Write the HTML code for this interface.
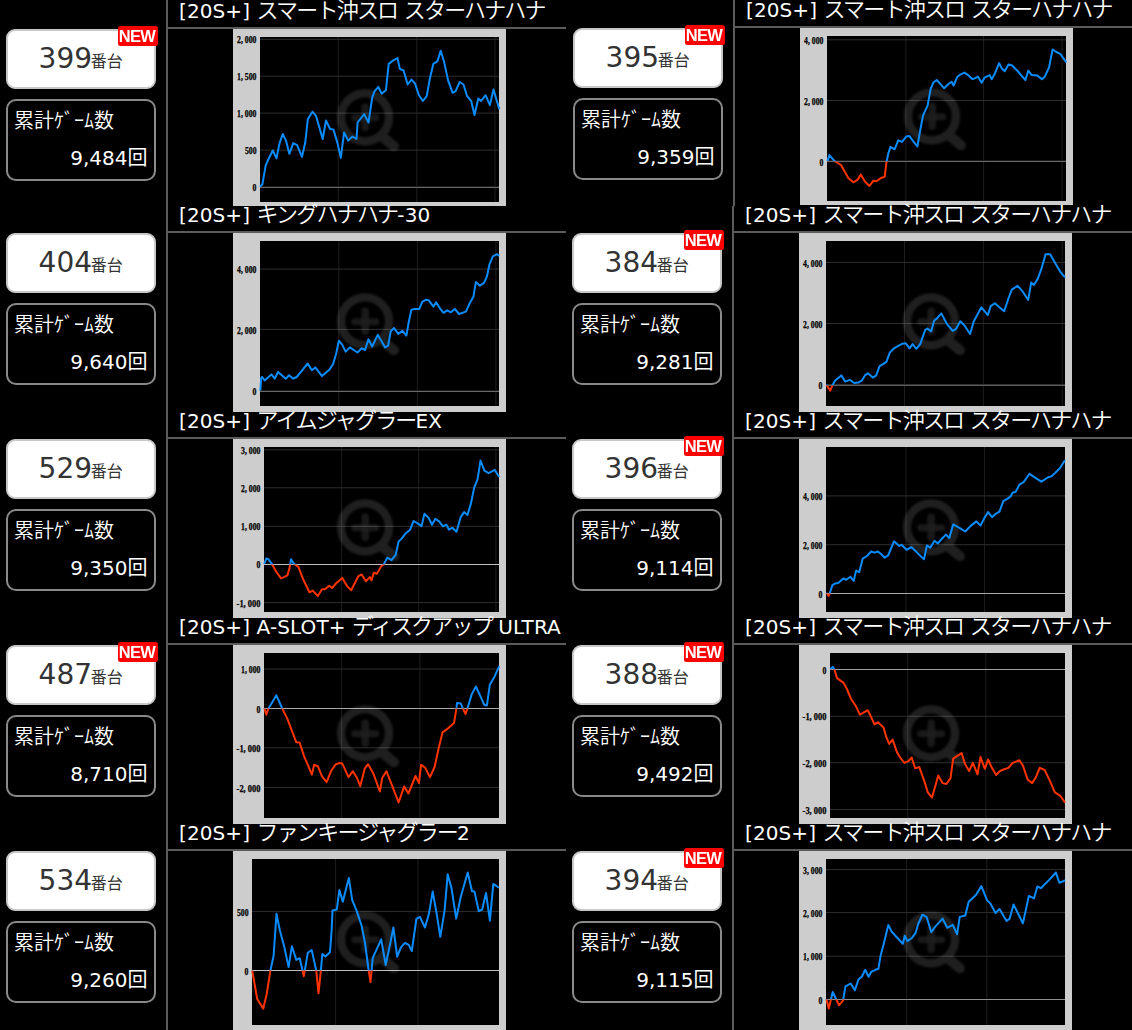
<!DOCTYPE html>
<html lang="ja"><head><meta charset="utf-8"><title>slot data</title>
<style>
*{margin:0;padding:0;box-sizing:border-box}
html,body{width:1132px;height:1030px;overflow:hidden;background:#000}
body{position:relative;font-family:"DejaVu Sans","Noto Sans CJK JP",sans-serif;color:#fff}
.vl{position:absolute;width:2px;background:#5b5b5b}
.hl{position:absolute;height:2px;background:#5b5b5b}
.tt{position:absolute;font-size:20px;line-height:20px;white-space:nowrap;color:#fff;letter-spacing:0.1px}
.tt .j{font-size:22px;letter-spacing:-1.8px;position:relative;top:0px;font-weight:350}
.nb{position:absolute;width:150px;height:60px;background:#fff;border:2px solid #c8c8c8;border-radius:9px;color:#333}
.nb .n{position:absolute;font-size:28px;line-height:28px;white-space:nowrap}
.nb .s{font-size:16px;font-family:"Noto Sans CJK JP",sans-serif;margin-left:-1.2px;position:relative;top:-1px}
.new{position:absolute;width:40px;height:20px;background:#ff0000;border-radius:2.5px;color:#fff;font:bold 16.5px/20px "Liberation Sans",sans-serif;text-align:center;letter-spacing:-0.6px;text-indent:-1px}
.new span{display:inline-block;filter:blur(0.5px);transform:scaleY(1.02)}
.gb{position:absolute;width:150px;height:82px;border:2px solid #8a8a8a;border-radius:10px;background:#000}
.gb .l{position:absolute;left:6px;top:8.5px;font-size:20px;line-height:20px;white-space:nowrap;font-family:"Noto Sans CJK JP",sans-serif;font-weight:350}
.gb .v{position:absolute;right:6.5px;top:45.5px;font-size:20px;line-height:20px;white-space:nowrap}
.gb .v .k{font-family:"Noto Sans CJK JP",sans-serif}
svg.ch{position:absolute}
</style></head>
<body>
<div class="vl" style="left:166px;top:0;height:1030px"></div>
<div class="vl" style="left:733px;top:0;height:206px"></div>
<div class="vl" style="left:732px;top:206px;height:824px"></div>
<div class="tt" style="left:179px;top:1px">[20S+] <span class="j">スマート沖スロ</span> <span class="j">スターハナハナ</span></div>
<div class="hl" style="left:166px;top:27px;width:400px"></div>
<div class="nb" style="left:6px;top:29px"><div class="n" style="left:30.6px;top:14px">399<span class="s">番台</span></div></div>
<div class="new" style="left:118px;top:26px"><span>NEW</span></div>
<div class="gb" style="left:6px;top:99px"><div class="l">累計ｹﾞｰﾑ数</div><div class="v">9,484<span class="k">回</span></div></div>
<svg class="ch" style="left:233px;top:29px" width="273" height="177" viewBox="0 0 273 177"><rect width="273" height="177" fill="#cdcdcd"/><rect x="27" y="8" width="239" height="165" fill="#000"/><line x1="105.2" y1="8" x2="105.2" y2="173" stroke="#1e1e1e" stroke-width="1"/><line x1="183.8" y1="8" x2="183.8" y2="173" stroke="#1e1e1e" stroke-width="1"/><line x1="262.0" y1="8" x2="262.0" y2="173" stroke="#1e1e1e" stroke-width="1"/><line x1="27" y1="10.3" x2="266" y2="10.3" stroke="#2e2e2e" stroke-width="1"/><line x1="27" y1="47.2" x2="266" y2="47.2" stroke="#2e2e2e" stroke-width="1"/><line x1="27" y1="84.1" x2="266" y2="84.1" stroke="#2e2e2e" stroke-width="1"/><line x1="27" y1="121.1" x2="266" y2="121.1" stroke="#2e2e2e" stroke-width="1"/><rect x="27" y="157" width="239" height="1" fill="#1c1c1c"/><rect x="27" y="158" width="239" height="1" fill="#686868"/><filter id="fL0" x="-20%" y="-20%" width="140%" height="140%"><feGaussianBlur stdDeviation="0.9"/></filter><g filter="url(#fL0)" opacity="0.12"><circle cx="132.0" cy="88.3" r="24" fill="none" stroke="#fff" stroke-width="8.3"/><line x1="132.2" y1="78.3" x2="132.2" y2="98.3" stroke="#fff" stroke-width="7.5" stroke-linecap="round" opacity="0.8"/><line x1="121.7" y1="88.8" x2="142.7" y2="88.8" stroke="#fff" stroke-width="7" stroke-linecap="round" opacity="0.8"/><line x1="149.0" y1="107.3" x2="161.0" y2="117.3" stroke="#fff" stroke-width="10" stroke-linecap="round"/></g><text x="23.5" y="14.4" text-anchor="end" font-family="Liberation Serif" font-weight="bold" font-size="10" textLength="19.4" lengthAdjust="spacingAndGlyphs" fill="#000" stroke="#000" stroke-width="0.25">2, 000</text><text x="23.5" y="51.3" text-anchor="end" font-family="Liberation Serif" font-weight="bold" font-size="10" textLength="19.4" lengthAdjust="spacingAndGlyphs" fill="#000" stroke="#000" stroke-width="0.25">1, 500</text><text x="23.5" y="88.2" text-anchor="end" font-family="Liberation Serif" font-weight="bold" font-size="10" textLength="19.4" lengthAdjust="spacingAndGlyphs" fill="#000" stroke="#000" stroke-width="0.25">1, 000</text><text x="23.5" y="125.2" text-anchor="end" font-family="Liberation Serif" font-weight="bold" font-size="10" textLength="11.6" lengthAdjust="spacingAndGlyphs" fill="#000" stroke="#000" stroke-width="0.25">500</text><text x="23.5" y="162.1" text-anchor="end" font-family="Liberation Serif" font-weight="bold" font-size="10" textLength="3.9" lengthAdjust="spacingAndGlyphs" fill="#000" stroke="#000" stroke-width="0.25">0</text><clipPath id="aL0"><rect x="0" y="0" width="273" height="158.50"/></clipPath><clipPath id="bL0"><rect x="0" y="158.50" width="273" height="177"/></clipPath><path d="M27.0,157.8 L29.4,155.3 L32.7,136.4 L36.0,129.0 L39.8,121.5 L43.5,129.4 L46.4,114.9 L49.7,105.0 L53.0,111.6 L56.3,124.8 L60.3,114.1 L64.1,116.2 L69.0,127.8 L72.3,113.3 L74.8,90.2 L79.4,82.7 L83.0,86.9 L89.7,110.0 L93.0,91.5 L97.1,100.0 L100.4,100.4 L104.5,114.1 L107.8,128.9 L111.1,103.4 L115.2,111.6 L119.4,107.5 L123.5,110.0 L124.6,93.5 L131.2,85.2 L135.5,93.5 L139.2,68.7 L141.6,62.1 L145.4,58.0 L148.6,64.6 L152.9,61.3 L155.7,34.9 L159.9,31.6 L164.5,29.1 L166.8,39.8 L170.6,41.5 L174.7,55.5 L178.5,50.6 L182.1,54.7 L185.9,66.2 L189.9,72.0 L193.7,67.1 L197.0,48.9 L200.3,34.9 L204.4,32.4 L207.7,21.7 L211.0,32.4 L215.1,51.4 L219.6,63.8 L222.6,62.1 L226.7,53.0 L230.5,55.5 L234.1,67.1 L238.2,72.0 L241.5,86.0 L245.3,69.5 L248.1,72.0 L252.6,66.2 L256.9,76.1 L260.5,60.5 L266.3,80.3" fill="none" stroke="#0a8cff" stroke-width="2.0" stroke-linejoin="round" clip-path="url(#aL0)"/><path d="M27.0,157.8 L29.4,155.3 L32.7,136.4 L36.0,129.0 L39.8,121.5 L43.5,129.4 L46.4,114.9 L49.7,105.0 L53.0,111.6 L56.3,124.8 L60.3,114.1 L64.1,116.2 L69.0,127.8 L72.3,113.3 L74.8,90.2 L79.4,82.7 L83.0,86.9 L89.7,110.0 L93.0,91.5 L97.1,100.0 L100.4,100.4 L104.5,114.1 L107.8,128.9 L111.1,103.4 L115.2,111.6 L119.4,107.5 L123.5,110.0 L124.6,93.5 L131.2,85.2 L135.5,93.5 L139.2,68.7 L141.6,62.1 L145.4,58.0 L148.6,64.6 L152.9,61.3 L155.7,34.9 L159.9,31.6 L164.5,29.1 L166.8,39.8 L170.6,41.5 L174.7,55.5 L178.5,50.6 L182.1,54.7 L185.9,66.2 L189.9,72.0 L193.7,67.1 L197.0,48.9 L200.3,34.9 L204.4,32.4 L207.7,21.7 L211.0,32.4 L215.1,51.4 L219.6,63.8 L222.6,62.1 L226.7,53.0 L230.5,55.5 L234.1,67.1 L238.2,72.0 L241.5,86.0 L245.3,69.5 L248.1,72.0 L252.6,66.2 L256.9,76.1 L260.5,60.5 L266.3,80.3" fill="none" stroke="#ff3300" stroke-width="2.0" stroke-linejoin="round" clip-path="url(#bL0)"/></svg>
<div class="tt" style="left:746px;top:0px">[20S+] <span class="j">スマート沖スロ</span> <span class="j">スターハナハナ</span></div>
<div class="hl" style="left:733px;top:26px;width:400px"></div>
<div class="nb" style="left:573px;top:28px"><div class="n" style="left:30.6px;top:14px">395<span class="s">番台</span></div></div>
<div class="new" style="left:685px;top:25px"><span>NEW</span></div>
<div class="gb" style="left:573px;top:98px"><div class="l">累計ｹﾞｰﾑ数</div><div class="v">9,359<span class="k">回</span></div></div>
<svg class="ch" style="left:800px;top:28px" width="273" height="177" viewBox="0 0 273 177"><rect width="273" height="177" fill="#cdcdcd"/><rect x="27" y="8" width="239" height="165" fill="#000"/><line x1="105.9" y1="8" x2="105.9" y2="173" stroke="#1e1e1e" stroke-width="1"/><line x1="183.6" y1="8" x2="183.6" y2="173" stroke="#1e1e1e" stroke-width="1"/><line x1="262.0" y1="8" x2="262.0" y2="173" stroke="#1e1e1e" stroke-width="1"/><line x1="27" y1="11.8" x2="266" y2="11.8" stroke="#2e2e2e" stroke-width="1"/><line x1="27" y1="72.5" x2="266" y2="72.5" stroke="#2e2e2e" stroke-width="1"/><rect x="27" y="132" width="239" height="1" fill="#1a1a1a"/><rect x="27" y="133" width="239" height="1" fill="#686868"/><filter id="fR0" x="-20%" y="-20%" width="140%" height="140%"><feGaussianBlur stdDeviation="0.9"/></filter><g filter="url(#fR0)" opacity="0.12"><circle cx="132.0" cy="88.3" r="24" fill="none" stroke="#fff" stroke-width="8.3"/><line x1="132.2" y1="78.3" x2="132.2" y2="98.3" stroke="#fff" stroke-width="7.5" stroke-linecap="round" opacity="0.8"/><line x1="121.7" y1="88.8" x2="142.7" y2="88.8" stroke="#fff" stroke-width="7" stroke-linecap="round" opacity="0.8"/><line x1="149.0" y1="107.3" x2="161.0" y2="117.3" stroke="#fff" stroke-width="10" stroke-linecap="round"/></g><text x="23.5" y="15.9" text-anchor="end" font-family="Liberation Serif" font-weight="bold" font-size="10" textLength="19.4" lengthAdjust="spacingAndGlyphs" fill="#000" stroke="#000" stroke-width="0.25">4, 000</text><text x="23.5" y="76.6" text-anchor="end" font-family="Liberation Serif" font-weight="bold" font-size="10" textLength="19.4" lengthAdjust="spacingAndGlyphs" fill="#000" stroke="#000" stroke-width="0.25">2, 000</text><text x="23.5" y="137.7" text-anchor="end" font-family="Liberation Serif" font-weight="bold" font-size="10" textLength="3.9" lengthAdjust="spacingAndGlyphs" fill="#000" stroke="#000" stroke-width="0.25">0</text><clipPath id="aR0"><rect x="0" y="0" width="273" height="133.50"/></clipPath><clipPath id="bR0"><rect x="0" y="133.50" width="273" height="177"/></clipPath><path d="M27.4,133.4 L29.4,127.1 L34.4,132.9 L41.0,137.0 L48.4,150.2 L53.4,154.3 L57.5,151.9 L60.8,146.6 L64.9,153.5 L69.4,158.0 L73.5,152.7 L76.5,153.2 L80.6,150.2 L84.7,148.6 L86.4,134.5 L88.3,125.5 L90.5,118.9 L94.6,121.3 L98.2,112.3 L102.0,113.9 L106.2,108.6 L109.5,108.1 L113.1,113.1 L117.4,118.5 L120.2,102.4 L123.0,87.5 L127.6,77.6 L130.6,61.1 L133.4,54.5 L136.7,52.0 L140.5,56.2 L144.1,60.3 L148.2,56.2 L151.6,53.7 L153.6,57.5 L157.4,48.7 L160.7,46.3 L164.5,44.6 L168.1,47.1 L172.2,50.9 L174.7,50.4 L178.0,48.7 L181.6,54.8 L184.6,49.6 L189.6,47.1 L191.7,51.2 L194.5,46.3 L199.1,35.2 L201.9,40.5 L204.7,43.3 L208.5,36.4 L211.8,37.2 L217.6,43.0 L221.7,47.9 L225.4,52.0 L228.3,42.6 L231.6,47.1 L237.4,47.6 L242.0,51.2 L244.8,48.7 L249.0,39.7 L252.6,21.5 L256.4,24.0 L260.5,26.1 L266.3,34.4" fill="none" stroke="#0a8cff" stroke-width="2.0" stroke-linejoin="round" clip-path="url(#aR0)"/><path d="M27.4,133.4 L29.4,127.1 L34.4,132.9 L41.0,137.0 L48.4,150.2 L53.4,154.3 L57.5,151.9 L60.8,146.6 L64.9,153.5 L69.4,158.0 L73.5,152.7 L76.5,153.2 L80.6,150.2 L84.7,148.6 L86.4,134.5 L88.3,125.5 L90.5,118.9 L94.6,121.3 L98.2,112.3 L102.0,113.9 L106.2,108.6 L109.5,108.1 L113.1,113.1 L117.4,118.5 L120.2,102.4 L123.0,87.5 L127.6,77.6 L130.6,61.1 L133.4,54.5 L136.7,52.0 L140.5,56.2 L144.1,60.3 L148.2,56.2 L151.6,53.7 L153.6,57.5 L157.4,48.7 L160.7,46.3 L164.5,44.6 L168.1,47.1 L172.2,50.9 L174.7,50.4 L178.0,48.7 L181.6,54.8 L184.6,49.6 L189.6,47.1 L191.7,51.2 L194.5,46.3 L199.1,35.2 L201.9,40.5 L204.7,43.3 L208.5,36.4 L211.8,37.2 L217.6,43.0 L221.7,47.9 L225.4,52.0 L228.3,42.6 L231.6,47.1 L237.4,47.6 L242.0,51.2 L244.8,48.7 L249.0,39.7 L252.6,21.5 L256.4,24.0 L260.5,26.1 L266.3,34.4" fill="none" stroke="#ff3300" stroke-width="2.0" stroke-linejoin="round" clip-path="url(#bR0)"/></svg>
<div class="tt" style="left:179px;top:205px">[20S+] <span class="j">キングハナハナ</span>-30</div>
<div class="hl" style="left:166px;top:231px;width:400px"></div>
<div class="nb" style="left:6px;top:233px"><div class="n" style="left:30.6px;top:14px">404<span class="s">番台</span></div></div>
<div class="gb" style="left:6px;top:303px"><div class="l">累計ｹﾞｰﾑ数</div><div class="v">9,640<span class="k">回</span></div></div>
<svg class="ch" style="left:233px;top:233px" width="273" height="179" viewBox="0 0 273 179"><rect width="273" height="179" fill="#cdcdcd"/><rect x="27" y="8" width="239" height="165" fill="#000"/><line x1="105.8" y1="8" x2="105.8" y2="173" stroke="#1e1e1e" stroke-width="1"/><line x1="184.4" y1="8" x2="184.4" y2="173" stroke="#1e1e1e" stroke-width="1"/><line x1="262.9" y1="8" x2="262.9" y2="173" stroke="#1e1e1e" stroke-width="1"/><line x1="27" y1="36.1" x2="266" y2="36.1" stroke="#2e2e2e" stroke-width="1"/><line x1="27" y1="96.4" x2="266" y2="96.4" stroke="#2e2e2e" stroke-width="1"/><rect x="27" y="157" width="239" height="1" fill="#1c1c1c"/><rect x="27" y="158" width="239" height="1" fill="#686868"/><filter id="fL1" x="-20%" y="-20%" width="140%" height="140%"><feGaussianBlur stdDeviation="0.9"/></filter><g filter="url(#fL1)" opacity="0.12"><circle cx="132.0" cy="88.3" r="24" fill="none" stroke="#fff" stroke-width="8.3"/><line x1="132.2" y1="78.3" x2="132.2" y2="98.3" stroke="#fff" stroke-width="7.5" stroke-linecap="round" opacity="0.8"/><line x1="121.7" y1="88.8" x2="142.7" y2="88.8" stroke="#fff" stroke-width="7" stroke-linecap="round" opacity="0.8"/><line x1="149.0" y1="107.3" x2="161.0" y2="117.3" stroke="#fff" stroke-width="10" stroke-linecap="round"/></g><text x="23.5" y="40.2" text-anchor="end" font-family="Liberation Serif" font-weight="bold" font-size="10" textLength="19.4" lengthAdjust="spacingAndGlyphs" fill="#000" stroke="#000" stroke-width="0.25">4, 000</text><text x="23.5" y="100.5" text-anchor="end" font-family="Liberation Serif" font-weight="bold" font-size="10" textLength="19.4" lengthAdjust="spacingAndGlyphs" fill="#000" stroke="#000" stroke-width="0.25">2, 000</text><text x="23.5" y="161.8" text-anchor="end" font-family="Liberation Serif" font-weight="bold" font-size="10" textLength="3.9" lengthAdjust="spacingAndGlyphs" fill="#000" stroke="#000" stroke-width="0.25">0</text><clipPath id="aL1"><rect x="0" y="0" width="273" height="158.50"/></clipPath><clipPath id="bL1"><rect x="0" y="158.50" width="273" height="179"/></clipPath><path d="M27.4,157.5 L28.2,144.8 L29.1,144.0 L31.6,147.4 L38.4,141.4 L41.7,145.7 L45.1,138.9 L52.7,145.7 L56.1,142.3 L60.3,145.7 L63.7,144.0 L67.9,138.9 L74.7,130.5 L78.9,137.2 L82.3,134.4 L89.0,143.1 L96.6,136.4 L100.0,131.3 L103.0,121.2 L105.9,107.7 L109.3,111.9 L112.6,118.6 L116.9,114.4 L124.5,119.5 L128.7,115.3 L132.1,117.0 L135.4,106.3 L139.2,113.6 L144.7,101.8 L149.0,109.0 L152.1,114.4 L155.1,112.7 L157.7,98.4 L161.0,95.0 L165.3,100.9 L169.5,97.9 L173.4,102.6 L175.4,90.8 L178.3,77.0 L181.3,75.9 L186.4,75.9 L189.2,68.8 L193.1,66.7 L195.6,67.2 L200.4,73.6 L203.2,69.2 L206.6,74.8 L210.5,79.8 L214.2,77.3 L217.9,79.3 L221.8,75.9 L226.0,81.0 L232.8,78.6 L237.0,69.7 L240.4,63.8 L242.9,48.9 L246.8,52.8 L251.0,49.9 L253.9,43.5 L256.4,31.7 L259.8,23.3 L264.0,21.2 L266.2,22.9" fill="none" stroke="#0a8cff" stroke-width="2.0" stroke-linejoin="round" clip-path="url(#aL1)"/><path d="M27.4,157.5 L28.2,144.8 L29.1,144.0 L31.6,147.4 L38.4,141.4 L41.7,145.7 L45.1,138.9 L52.7,145.7 L56.1,142.3 L60.3,145.7 L63.7,144.0 L67.9,138.9 L74.7,130.5 L78.9,137.2 L82.3,134.4 L89.0,143.1 L96.6,136.4 L100.0,131.3 L103.0,121.2 L105.9,107.7 L109.3,111.9 L112.6,118.6 L116.9,114.4 L124.5,119.5 L128.7,115.3 L132.1,117.0 L135.4,106.3 L139.2,113.6 L144.7,101.8 L149.0,109.0 L152.1,114.4 L155.1,112.7 L157.7,98.4 L161.0,95.0 L165.3,100.9 L169.5,97.9 L173.4,102.6 L175.4,90.8 L178.3,77.0 L181.3,75.9 L186.4,75.9 L189.2,68.8 L193.1,66.7 L195.6,67.2 L200.4,73.6 L203.2,69.2 L206.6,74.8 L210.5,79.8 L214.2,77.3 L217.9,79.3 L221.8,75.9 L226.0,81.0 L232.8,78.6 L237.0,69.7 L240.4,63.8 L242.9,48.9 L246.8,52.8 L251.0,49.9 L253.9,43.5 L256.4,31.7 L259.8,23.3 L264.0,21.2 L266.2,22.9" fill="none" stroke="#ff3300" stroke-width="2.0" stroke-linejoin="round" clip-path="url(#bL1)"/></svg>
<div class="tt" style="left:745px;top:205px">[20S+] <span class="j">スマート沖スロ</span> <span class="j">スターハナハナ</span></div>
<div class="hl" style="left:732px;top:231px;width:400px"></div>
<div class="nb" style="left:572px;top:233px"><div class="n" style="left:30.6px;top:14px">384<span class="s">番台</span></div></div>
<div class="new" style="left:684px;top:230px"><span>NEW</span></div>
<div class="gb" style="left:572px;top:303px"><div class="l">累計ｹﾞｰﾑ数</div><div class="v">9,281<span class="k">回</span></div></div>
<svg class="ch" style="left:799px;top:233px" width="273" height="179" viewBox="0 0 273 179"><rect width="273" height="179" fill="#cdcdcd"/><rect x="27" y="8" width="239" height="165" fill="#000"/><line x1="105.5" y1="8" x2="105.5" y2="173" stroke="#1e1e1e" stroke-width="1"/><line x1="184.3" y1="8" x2="184.3" y2="173" stroke="#1e1e1e" stroke-width="1"/><line x1="263.2" y1="8" x2="263.2" y2="173" stroke="#1e1e1e" stroke-width="1"/><line x1="27" y1="29.4" x2="266" y2="29.4" stroke="#2e2e2e" stroke-width="1"/><line x1="27" y1="90.5" x2="266" y2="90.5" stroke="#2e2e2e" stroke-width="1"/><rect x="27" y="151" width="239" height="1" fill="#333333"/><rect x="27" y="152" width="239" height="1" fill="#5a5a5a"/><filter id="fR1" x="-20%" y="-20%" width="140%" height="140%"><feGaussianBlur stdDeviation="0.9"/></filter><g filter="url(#fR1)" opacity="0.12"><circle cx="132.0" cy="88.3" r="24" fill="none" stroke="#fff" stroke-width="8.3"/><line x1="132.2" y1="78.3" x2="132.2" y2="98.3" stroke="#fff" stroke-width="7.5" stroke-linecap="round" opacity="0.8"/><line x1="121.7" y1="88.8" x2="142.7" y2="88.8" stroke="#fff" stroke-width="7" stroke-linecap="round" opacity="0.8"/><line x1="149.0" y1="107.3" x2="161.0" y2="117.3" stroke="#fff" stroke-width="10" stroke-linecap="round"/></g><text x="23.5" y="33.5" text-anchor="end" font-family="Liberation Serif" font-weight="bold" font-size="10" textLength="19.4" lengthAdjust="spacingAndGlyphs" fill="#000" stroke="#000" stroke-width="0.25">4, 000</text><text x="23.5" y="94.6" text-anchor="end" font-family="Liberation Serif" font-weight="bold" font-size="10" textLength="19.4" lengthAdjust="spacingAndGlyphs" fill="#000" stroke="#000" stroke-width="0.25">2, 000</text><text x="23.5" y="156.3" text-anchor="end" font-family="Liberation Serif" font-weight="bold" font-size="10" textLength="3.9" lengthAdjust="spacingAndGlyphs" fill="#000" stroke="#000" stroke-width="0.25">0</text><clipPath id="aR1"><rect x="0" y="0" width="273" height="152.50"/></clipPath><clipPath id="bR1"><rect x="0" y="152.50" width="273" height="179"/></clipPath><path d="M27.4,151.7 L31.3,157.6 L33.3,152.5 L36.2,147.4 L42.3,142.4 L46.3,148.6 L50.7,146.9 L55.3,150.0 L59.5,149.6 L62.9,147.4 L65.9,142.4 L68.8,140.2 L73.9,144.6 L77.2,142.4 L80.6,133.1 L83.1,131.7 L87.4,128.8 L90.8,119.6 L95.0,115.3 L99.2,112.8 L103.1,110.8 L106.8,110.3 L110.5,115.3 L113.6,111.1 L117.3,115.8 L121.2,111.1 L126.2,96.8 L128.4,95.6 L132.1,98.4 L135.2,87.5 L138.0,85.4 L142.3,80.4 L147.8,90.8 L153.7,97.9 L157.0,95.9 L161.3,88.3 L165.5,92.5 L171.1,101.0 L174.8,88.3 L182.4,74.3 L188.8,82.1 L191.7,73.1 L195.9,70.2 L200.1,74.0 L205.2,78.2 L209.4,65.5 L212.8,56.7 L218.7,52.8 L223.8,58.7 L229.2,66.9 L232.2,49.5 L234.8,52.0 L238.6,46.1 L242.4,35.9 L246.6,21.2 L251.1,21.2 L257.6,32.6 L261.3,38.8 L266.0,44.4" fill="none" stroke="#0a8cff" stroke-width="2.0" stroke-linejoin="round" clip-path="url(#aR1)"/><path d="M27.4,151.7 L31.3,157.6 L33.3,152.5 L36.2,147.4 L42.3,142.4 L46.3,148.6 L50.7,146.9 L55.3,150.0 L59.5,149.6 L62.9,147.4 L65.9,142.4 L68.8,140.2 L73.9,144.6 L77.2,142.4 L80.6,133.1 L83.1,131.7 L87.4,128.8 L90.8,119.6 L95.0,115.3 L99.2,112.8 L103.1,110.8 L106.8,110.3 L110.5,115.3 L113.6,111.1 L117.3,115.8 L121.2,111.1 L126.2,96.8 L128.4,95.6 L132.1,98.4 L135.2,87.5 L138.0,85.4 L142.3,80.4 L147.8,90.8 L153.7,97.9 L157.0,95.9 L161.3,88.3 L165.5,92.5 L171.1,101.0 L174.8,88.3 L182.4,74.3 L188.8,82.1 L191.7,73.1 L195.9,70.2 L200.1,74.0 L205.2,78.2 L209.4,65.5 L212.8,56.7 L218.7,52.8 L223.8,58.7 L229.2,66.9 L232.2,49.5 L234.8,52.0 L238.6,46.1 L242.4,35.9 L246.6,21.2 L251.1,21.2 L257.6,32.6 L261.3,38.8 L266.0,44.4" fill="none" stroke="#ff3300" stroke-width="2.0" stroke-linejoin="round" clip-path="url(#bR1)"/></svg>
<div class="tt" style="left:179px;top:411px">[20S+] <span class="j">アイムジャグラー</span>EX</div>
<div class="hl" style="left:166px;top:437px;width:400px"></div>
<div class="nb" style="left:6px;top:439px"><div class="n" style="left:30.6px;top:14px">529<span class="s">番台</span></div></div>
<div class="gb" style="left:6px;top:509px"><div class="l">累計ｹﾞｰﾑ数</div><div class="v">9,350<span class="k">回</span></div></div>
<svg class="ch" style="left:233px;top:439px" width="273" height="179" viewBox="0 0 273 179"><rect width="273" height="179" fill="#cdcdcd"/><rect x="31" y="8" width="235" height="165" fill="#000"/><line x1="108.6" y1="8" x2="108.6" y2="173" stroke="#1e1e1e" stroke-width="1"/><line x1="185.7" y1="8" x2="185.7" y2="173" stroke="#1e1e1e" stroke-width="1"/><line x1="262.9" y1="8" x2="262.9" y2="173" stroke="#1e1e1e" stroke-width="1"/><line x1="31" y1="10.8" x2="266" y2="10.8" stroke="#2e2e2e" stroke-width="1"/><line x1="31" y1="48.8" x2="266" y2="48.8" stroke="#2e2e2e" stroke-width="1"/><line x1="31" y1="87.3" x2="266" y2="87.3" stroke="#2e2e2e" stroke-width="1"/><line x1="31" y1="163.6" x2="266" y2="163.6" stroke="#2e2e2e" stroke-width="1"/><rect x="31" y="125" width="235" height="1" fill="#c0c0c0"/><filter id="fL2" x="-20%" y="-20%" width="140%" height="140%"><feGaussianBlur stdDeviation="0.9"/></filter><g filter="url(#fL2)" opacity="0.12"><circle cx="132.0" cy="88.3" r="24" fill="none" stroke="#fff" stroke-width="8.3"/><line x1="132.2" y1="78.3" x2="132.2" y2="98.3" stroke="#fff" stroke-width="7.5" stroke-linecap="round" opacity="0.8"/><line x1="121.7" y1="88.8" x2="142.7" y2="88.8" stroke="#fff" stroke-width="7" stroke-linecap="round" opacity="0.8"/><line x1="149.0" y1="107.3" x2="161.0" y2="117.3" stroke="#fff" stroke-width="10" stroke-linecap="round"/></g><text x="27.5" y="14.9" text-anchor="end" font-family="Liberation Serif" font-weight="bold" font-size="10" textLength="19.4" lengthAdjust="spacingAndGlyphs" fill="#000" stroke="#000" stroke-width="0.25">3, 000</text><text x="27.5" y="52.9" text-anchor="end" font-family="Liberation Serif" font-weight="bold" font-size="10" textLength="19.4" lengthAdjust="spacingAndGlyphs" fill="#000" stroke="#000" stroke-width="0.25">2, 000</text><text x="27.5" y="91.4" text-anchor="end" font-family="Liberation Serif" font-weight="bold" font-size="10" textLength="19.4" lengthAdjust="spacingAndGlyphs" fill="#000" stroke="#000" stroke-width="0.25">1, 000</text><text x="27.5" y="129.2" text-anchor="end" font-family="Liberation Serif" font-weight="bold" font-size="10" textLength="3.9" lengthAdjust="spacingAndGlyphs" fill="#000" stroke="#000" stroke-width="0.25">0</text><text x="27.5" y="167.7" text-anchor="end" font-family="Liberation Serif" font-weight="bold" font-size="10" textLength="23.9" lengthAdjust="spacingAndGlyphs" fill="#000" stroke="#000" stroke-width="0.25">-1, 000</text><clipPath id="aL2"><rect x="0" y="0" width="273" height="125.50"/></clipPath><clipPath id="bL2"><rect x="0" y="125.50" width="273" height="179"/></clipPath><path d="M31.3,124.9 L33.3,119.5 L35.5,120.3 L38.9,124.9 L43.4,133.0 L48.0,139.4 L51.0,138.1 L54.4,136.4 L56.4,129.6 L58.1,120.3 L60.8,124.6 L65.4,127.9 L69.9,139.8 L76.4,153.3 L79.7,151.6 L84.8,157.0 L89.0,150.2 L91.9,150.2 L96.3,146.8 L99.1,149.0 L103.4,144.0 L109.3,138.9 L114.3,147.4 L118.2,151.2 L125.3,137.2 L128.7,135.5 L132.9,142.3 L136.8,138.1 L138.5,141.4 L140.8,133.8 L143.9,134.7 L148.1,127.6 L151.0,124.9 L154.3,118.7 L158.5,121.2 L162.7,115.8 L165.6,102.6 L168.6,99.6 L172.9,94.2 L177.1,90.8 L180.5,82.0 L184.7,84.4 L188.6,87.1 L191.4,74.8 L195.7,79.0 L199.0,85.7 L202.4,79.8 L206.1,82.4 L210.0,87.4 L213.4,85.7 L215.9,90.5 L219.3,88.8 L223.5,92.8 L227.7,78.1 L231.1,73.1 L234.5,75.9 L237.9,64.6 L241.2,48.6 L244.6,40.1 L247.5,21.6 L251.4,31.7 L255.6,34.2 L261.8,30.9 L266.2,38.1" fill="none" stroke="#0a8cff" stroke-width="2.0" stroke-linejoin="round" clip-path="url(#aL2)"/><path d="M31.3,124.9 L33.3,119.5 L35.5,120.3 L38.9,124.9 L43.4,133.0 L48.0,139.4 L51.0,138.1 L54.4,136.4 L56.4,129.6 L58.1,120.3 L60.8,124.6 L65.4,127.9 L69.9,139.8 L76.4,153.3 L79.7,151.6 L84.8,157.0 L89.0,150.2 L91.9,150.2 L96.3,146.8 L99.1,149.0 L103.4,144.0 L109.3,138.9 L114.3,147.4 L118.2,151.2 L125.3,137.2 L128.7,135.5 L132.9,142.3 L136.8,138.1 L138.5,141.4 L140.8,133.8 L143.9,134.7 L148.1,127.6 L151.0,124.9 L154.3,118.7 L158.5,121.2 L162.7,115.8 L165.6,102.6 L168.6,99.6 L172.9,94.2 L177.1,90.8 L180.5,82.0 L184.7,84.4 L188.6,87.1 L191.4,74.8 L195.7,79.0 L199.0,85.7 L202.4,79.8 L206.1,82.4 L210.0,87.4 L213.4,85.7 L215.9,90.5 L219.3,88.8 L223.5,92.8 L227.7,78.1 L231.1,73.1 L234.5,75.9 L237.9,64.6 L241.2,48.6 L244.6,40.1 L247.5,21.6 L251.4,31.7 L255.6,34.2 L261.8,30.9 L266.2,38.1" fill="none" stroke="#ff3300" stroke-width="2.0" stroke-linejoin="round" clip-path="url(#bL2)"/></svg>
<div class="tt" style="left:745px;top:411px">[20S+] <span class="j">スマート沖スロ</span> <span class="j">スターハナハナ</span></div>
<div class="hl" style="left:732px;top:437px;width:400px"></div>
<div class="nb" style="left:572px;top:439px"><div class="n" style="left:30.6px;top:14px">396<span class="s">番台</span></div></div>
<div class="new" style="left:684px;top:436px"><span>NEW</span></div>
<div class="gb" style="left:572px;top:509px"><div class="l">累計ｹﾞｰﾑ数</div><div class="v">9,114<span class="k">回</span></div></div>
<svg class="ch" style="left:799px;top:439px" width="273" height="179" viewBox="0 0 273 179"><rect width="273" height="179" fill="#cdcdcd"/><rect x="27" y="8" width="239" height="165" fill="#000"/><line x1="107.0" y1="8" x2="107.0" y2="173" stroke="#1e1e1e" stroke-width="1"/><line x1="185.6" y1="8" x2="185.6" y2="173" stroke="#1e1e1e" stroke-width="1"/><line x1="27" y1="56.9" x2="266" y2="56.9" stroke="#2e2e2e" stroke-width="1"/><line x1="27" y1="105.7" x2="266" y2="105.7" stroke="#2e2e2e" stroke-width="1"/><rect x="27" y="154" width="239" height="1" fill="#a8a8a8"/><filter id="fR2" x="-20%" y="-20%" width="140%" height="140%"><feGaussianBlur stdDeviation="0.9"/></filter><g filter="url(#fR2)" opacity="0.12"><circle cx="132.0" cy="88.3" r="24" fill="none" stroke="#fff" stroke-width="8.3"/><line x1="132.2" y1="78.3" x2="132.2" y2="98.3" stroke="#fff" stroke-width="7.5" stroke-linecap="round" opacity="0.8"/><line x1="121.7" y1="88.8" x2="142.7" y2="88.8" stroke="#fff" stroke-width="7" stroke-linecap="round" opacity="0.8"/><line x1="149.0" y1="107.3" x2="161.0" y2="117.3" stroke="#fff" stroke-width="10" stroke-linecap="round"/></g><text x="23.5" y="61.0" text-anchor="end" font-family="Liberation Serif" font-weight="bold" font-size="10" textLength="19.4" lengthAdjust="spacingAndGlyphs" fill="#000" stroke="#000" stroke-width="0.25">4, 000</text><text x="23.5" y="109.8" text-anchor="end" font-family="Liberation Serif" font-weight="bold" font-size="10" textLength="19.4" lengthAdjust="spacingAndGlyphs" fill="#000" stroke="#000" stroke-width="0.25">2, 000</text><text x="23.5" y="158.7" text-anchor="end" font-family="Liberation Serif" font-weight="bold" font-size="10" textLength="3.9" lengthAdjust="spacingAndGlyphs" fill="#000" stroke="#000" stroke-width="0.25">0</text><clipPath id="aR2"><rect x="0" y="0" width="273" height="154.50"/></clipPath><clipPath id="bR2"><rect x="0" y="154.50" width="273" height="179"/></clipPath><path d="M27.4,153.8 L29.6,157.0 L30.8,154.2 L33.3,146.2 L35.9,144.6 L39.2,144.0 L44.3,139.5 L47.3,140.7 L51.4,137.8 L54.8,141.9 L57.0,131.7 L60.3,133.1 L63.7,119.6 L67.9,117.0 L72.2,112.5 L75.5,113.6 L78.9,112.5 L82.3,115.3 L85.7,118.7 L89.1,116.5 L95.0,102.3 L100.4,106.9 L102.6,105.7 L107.6,110.8 L112.2,108.1 L118.6,114.1 L125.0,120.4 L127.9,106.4 L131.3,108.6 L135.5,101.8 L138.9,104.4 L141.0,101.8 L146.9,95.6 L150.3,99.0 L154.2,85.4 L160.4,88.8 L166.3,92.5 L171.4,87.1 L177.3,82.4 L181.5,86.6 L185.8,78.2 L189.1,73.1 L193.0,78.2 L196.7,74.8 L200.5,72.6 L204.3,62.1 L208.6,59.6 L211.6,57.4 L213.6,53.7 L216.7,52.8 L220.4,45.6 L224.6,43.2 L230.5,34.8 L236.4,38.8 L242.4,42.7 L248.8,38.5 L252.8,37.1 L260.9,29.2 L266.0,21.2" fill="none" stroke="#0a8cff" stroke-width="2.0" stroke-linejoin="round" clip-path="url(#aR2)"/><path d="M27.4,153.8 L29.6,157.0 L30.8,154.2 L33.3,146.2 L35.9,144.6 L39.2,144.0 L44.3,139.5 L47.3,140.7 L51.4,137.8 L54.8,141.9 L57.0,131.7 L60.3,133.1 L63.7,119.6 L67.9,117.0 L72.2,112.5 L75.5,113.6 L78.9,112.5 L82.3,115.3 L85.7,118.7 L89.1,116.5 L95.0,102.3 L100.4,106.9 L102.6,105.7 L107.6,110.8 L112.2,108.1 L118.6,114.1 L125.0,120.4 L127.9,106.4 L131.3,108.6 L135.5,101.8 L138.9,104.4 L141.0,101.8 L146.9,95.6 L150.3,99.0 L154.2,85.4 L160.4,88.8 L166.3,92.5 L171.4,87.1 L177.3,82.4 L181.5,86.6 L185.8,78.2 L189.1,73.1 L193.0,78.2 L196.7,74.8 L200.5,72.6 L204.3,62.1 L208.6,59.6 L211.6,57.4 L213.6,53.7 L216.7,52.8 L220.4,45.6 L224.6,43.2 L230.5,34.8 L236.4,38.8 L242.4,42.7 L248.8,38.5 L252.8,37.1 L260.9,29.2 L266.0,21.2" fill="none" stroke="#ff3300" stroke-width="2.0" stroke-linejoin="round" clip-path="url(#bR2)"/></svg>
<div class="tt" style="left:179px;top:617px">[20S+] A-SLOT+ <span class="j">ディスクアップ</span> ULTRA</div>
<div class="hl" style="left:166px;top:643px;width:400px"></div>
<div class="nb" style="left:6px;top:645px"><div class="n" style="left:30.6px;top:14px">487<span class="s">番台</span></div></div>
<div class="new" style="left:118px;top:642px"><span>NEW</span></div>
<div class="gb" style="left:6px;top:715px"><div class="l">累計ｹﾞｰﾑ数</div><div class="v">8,710<span class="k">回</span></div></div>
<svg class="ch" style="left:233px;top:645px" width="273" height="179" viewBox="0 0 273 179"><rect width="273" height="179" fill="#cdcdcd"/><rect x="31" y="8" width="235" height="165" fill="#000"/><line x1="108.6" y1="8" x2="108.6" y2="173" stroke="#1e1e1e" stroke-width="1"/><line x1="186.9" y1="8" x2="186.9" y2="173" stroke="#1e1e1e" stroke-width="1"/><line x1="31" y1="24.0" x2="266" y2="24.0" stroke="#2e2e2e" stroke-width="1"/><line x1="31" y1="102.8" x2="266" y2="102.8" stroke="#2e2e2e" stroke-width="1"/><line x1="31" y1="142.5" x2="266" y2="142.5" stroke="#2e2e2e" stroke-width="1"/><rect x="31" y="63" width="235" height="1" fill="#a8a8a8"/><filter id="fL3" x="-20%" y="-20%" width="140%" height="140%"><feGaussianBlur stdDeviation="0.9"/></filter><g filter="url(#fL3)" opacity="0.12"><circle cx="132.0" cy="88.3" r="24" fill="none" stroke="#fff" stroke-width="8.3"/><line x1="132.2" y1="78.3" x2="132.2" y2="98.3" stroke="#fff" stroke-width="7.5" stroke-linecap="round" opacity="0.8"/><line x1="121.7" y1="88.8" x2="142.7" y2="88.8" stroke="#fff" stroke-width="7" stroke-linecap="round" opacity="0.8"/><line x1="149.0" y1="107.3" x2="161.0" y2="117.3" stroke="#fff" stroke-width="10" stroke-linecap="round"/></g><text x="27.5" y="28.1" text-anchor="end" font-family="Liberation Serif" font-weight="bold" font-size="10" textLength="19.4" lengthAdjust="spacingAndGlyphs" fill="#000" stroke="#000" stroke-width="0.25">1, 000</text><text x="27.5" y="67.6" text-anchor="end" font-family="Liberation Serif" font-weight="bold" font-size="10" textLength="3.9" lengthAdjust="spacingAndGlyphs" fill="#000" stroke="#000" stroke-width="0.25">0</text><text x="27.5" y="106.9" text-anchor="end" font-family="Liberation Serif" font-weight="bold" font-size="10" textLength="23.9" lengthAdjust="spacingAndGlyphs" fill="#000" stroke="#000" stroke-width="0.25">-1, 000</text><text x="27.5" y="146.6" text-anchor="end" font-family="Liberation Serif" font-weight="bold" font-size="10" textLength="23.9" lengthAdjust="spacingAndGlyphs" fill="#000" stroke="#000" stroke-width="0.25">-2, 000</text><clipPath id="aL3"><rect x="0" y="0" width="273" height="63.50"/></clipPath><clipPath id="bL3"><rect x="0" y="63.50" width="273" height="179"/></clipPath><path d="M31.3,63.0 L33.3,69.7 L35.5,63.4 L43.4,50.3 L49.0,63.0 L54.4,73.9 L59.5,87.4 L63.2,97.2 L66.6,97.5 L71.0,111.1 L75.0,120.3 L78.9,129.6 L81.1,119.8 L84.8,121.2 L89.0,131.3 L93.6,137.2 L98.0,126.2 L102.5,119.5 L105.9,118.1 L109.3,118.6 L115.5,132.2 L119.9,126.2 L123.6,132.2 L127.3,141.1 L131.7,123.7 L135.1,119.2 L140.5,128.8 L146.9,146.5 L149.2,133.0 L153.4,126.2 L159.4,141.4 L165.6,157.5 L171.2,141.4 L175.4,148.5 L182.5,131.0 L185.9,138.1 L188.1,119.8 L192.3,122.9 L197.0,132.2 L201.6,122.0 L205.4,104.3 L209.5,87.4 L215.1,83.2 L221.0,78.1 L223.5,62.9 L224.0,57.9 L227.7,58.4 L232.5,69.2 L234.5,63.4 L238.7,49.4 L242.9,41.5 L247.1,50.6 L251.4,60.1 L253.9,60.4 L256.8,39.8 L261.5,31.7 L266.2,21.2" fill="none" stroke="#0a8cff" stroke-width="2.0" stroke-linejoin="round" clip-path="url(#aL3)"/><path d="M31.3,63.0 L33.3,69.7 L35.5,63.4 L43.4,50.3 L49.0,63.0 L54.4,73.9 L59.5,87.4 L63.2,97.2 L66.6,97.5 L71.0,111.1 L75.0,120.3 L78.9,129.6 L81.1,119.8 L84.8,121.2 L89.0,131.3 L93.6,137.2 L98.0,126.2 L102.5,119.5 L105.9,118.1 L109.3,118.6 L115.5,132.2 L119.9,126.2 L123.6,132.2 L127.3,141.1 L131.7,123.7 L135.1,119.2 L140.5,128.8 L146.9,146.5 L149.2,133.0 L153.4,126.2 L159.4,141.4 L165.6,157.5 L171.2,141.4 L175.4,148.5 L182.5,131.0 L185.9,138.1 L188.1,119.8 L192.3,122.9 L197.0,132.2 L201.6,122.0 L205.4,104.3 L209.5,87.4 L215.1,83.2 L221.0,78.1 L223.5,62.9 L224.0,57.9 L227.7,58.4 L232.5,69.2 L234.5,63.4 L238.7,49.4 L242.9,41.5 L247.1,50.6 L251.4,60.1 L253.9,60.4 L256.8,39.8 L261.5,31.7 L266.2,21.2" fill="none" stroke="#ff3300" stroke-width="2.0" stroke-linejoin="round" clip-path="url(#bL3)"/></svg>
<div class="tt" style="left:745px;top:617px">[20S+] <span class="j">スマート沖スロ</span> <span class="j">スターハナハナ</span></div>
<div class="hl" style="left:732px;top:643px;width:400px"></div>
<div class="nb" style="left:572px;top:645px"><div class="n" style="left:30.6px;top:14px">388<span class="s">番台</span></div></div>
<div class="new" style="left:684px;top:642px"><span>NEW</span></div>
<div class="gb" style="left:572px;top:715px"><div class="l">累計ｹﾞｰﾑ数</div><div class="v">9,492<span class="k">回</span></div></div>
<svg class="ch" style="left:799px;top:645px" width="273" height="179" viewBox="0 0 273 179"><rect width="273" height="179" fill="#cdcdcd"/><rect x="31" y="8" width="235" height="165" fill="#000"/><line x1="108.7" y1="8" x2="108.7" y2="173" stroke="#1e1e1e" stroke-width="1"/><line x1="186.8" y1="8" x2="186.8" y2="173" stroke="#1e1e1e" stroke-width="1"/><line x1="31" y1="71.3" x2="266" y2="71.3" stroke="#2e2e2e" stroke-width="1"/><line x1="31" y1="117.7" x2="266" y2="117.7" stroke="#2e2e2e" stroke-width="1"/><line x1="31" y1="164.5" x2="266" y2="164.5" stroke="#2e2e2e" stroke-width="1"/><rect x="31" y="24" width="235" height="1" fill="#a0a0a0"/><filter id="fR3" x="-20%" y="-20%" width="140%" height="140%"><feGaussianBlur stdDeviation="0.9"/></filter><g filter="url(#fR3)" opacity="0.12"><circle cx="132.0" cy="88.3" r="24" fill="none" stroke="#fff" stroke-width="8.3"/><line x1="132.2" y1="78.3" x2="132.2" y2="98.3" stroke="#fff" stroke-width="7.5" stroke-linecap="round" opacity="0.8"/><line x1="121.7" y1="88.8" x2="142.7" y2="88.8" stroke="#fff" stroke-width="7" stroke-linecap="round" opacity="0.8"/><line x1="149.0" y1="107.3" x2="161.0" y2="117.3" stroke="#fff" stroke-width="10" stroke-linecap="round"/></g><text x="27.5" y="28.6" text-anchor="end" font-family="Liberation Serif" font-weight="bold" font-size="10" textLength="3.9" lengthAdjust="spacingAndGlyphs" fill="#000" stroke="#000" stroke-width="0.25">0</text><text x="27.5" y="75.4" text-anchor="end" font-family="Liberation Serif" font-weight="bold" font-size="10" textLength="23.9" lengthAdjust="spacingAndGlyphs" fill="#000" stroke="#000" stroke-width="0.25">-1, 000</text><text x="27.5" y="121.8" text-anchor="end" font-family="Liberation Serif" font-weight="bold" font-size="10" textLength="23.9" lengthAdjust="spacingAndGlyphs" fill="#000" stroke="#000" stroke-width="0.25">-2, 000</text><text x="27.5" y="168.6" text-anchor="end" font-family="Liberation Serif" font-weight="bold" font-size="10" textLength="23.9" lengthAdjust="spacingAndGlyphs" fill="#000" stroke="#000" stroke-width="0.25">-3, 000</text><clipPath id="aR3"><rect x="0" y="0" width="273" height="24.50"/></clipPath><clipPath id="bR3"><rect x="0" y="24.50" width="273" height="179"/></clipPath><path d="M31.3,24.3 L33.8,21.9 L35.5,24.6 L38.0,33.1 L44.3,37.6 L47.7,43.5 L51.9,53.7 L57.0,61.3 L60.9,69.7 L64.6,67.5 L68.8,65.2 L72.2,72.3 L75.5,79.4 L78.9,77.3 L84.5,82.4 L87.4,92.5 L90.2,98.9 L93.6,94.6 L98.0,107.4 L101.4,112.8 L105.4,117.9 L109.3,116.2 L112.7,112.5 L116.1,123.3 L120.3,122.1 L125.4,136.4 L128.8,147.4 L133.0,152.5 L136.4,140.7 L139.2,130.5 L143.5,138.1 L147.4,139.0 L151.5,133.1 L154.2,113.6 L157.9,111.1 L162.6,108.1 L166.3,119.6 L170.1,126.0 L173.9,117.9 L178.5,129.4 L181.5,112.0 L185.8,123.8 L189.1,114.5 L192.5,122.1 L197.1,130.0 L201.0,126.0 L205.2,124.3 L209.4,122.9 L213.6,117.9 L220.4,115.3 L223.8,120.4 L228.8,134.8 L233.1,138.1 L236.9,132.2 L240.7,122.9 L245.7,125.0 L250.8,135.6 L255.9,147.4 L261.3,150.8 L266.0,157.6" fill="none" stroke="#0a8cff" stroke-width="2.0" stroke-linejoin="round" clip-path="url(#aR3)"/><path d="M31.3,24.3 L33.8,21.9 L35.5,24.6 L38.0,33.1 L44.3,37.6 L47.7,43.5 L51.9,53.7 L57.0,61.3 L60.9,69.7 L64.6,67.5 L68.8,65.2 L72.2,72.3 L75.5,79.4 L78.9,77.3 L84.5,82.4 L87.4,92.5 L90.2,98.9 L93.6,94.6 L98.0,107.4 L101.4,112.8 L105.4,117.9 L109.3,116.2 L112.7,112.5 L116.1,123.3 L120.3,122.1 L125.4,136.4 L128.8,147.4 L133.0,152.5 L136.4,140.7 L139.2,130.5 L143.5,138.1 L147.4,139.0 L151.5,133.1 L154.2,113.6 L157.9,111.1 L162.6,108.1 L166.3,119.6 L170.1,126.0 L173.9,117.9 L178.5,129.4 L181.5,112.0 L185.8,123.8 L189.1,114.5 L192.5,122.1 L197.1,130.0 L201.0,126.0 L205.2,124.3 L209.4,122.9 L213.6,117.9 L220.4,115.3 L223.8,120.4 L228.8,134.8 L233.1,138.1 L236.9,132.2 L240.7,122.9 L245.7,125.0 L250.8,135.6 L255.9,147.4 L261.3,150.8 L266.0,157.6" fill="none" stroke="#ff3300" stroke-width="2.0" stroke-linejoin="round" clip-path="url(#bR3)"/></svg>
<div class="tt" style="left:179px;top:823px">[20S+] <span class="j">ファンキージャグラー</span>2</div>
<div class="hl" style="left:166px;top:849px;width:400px"></div>
<div class="nb" style="left:6px;top:851px"><div class="n" style="left:30.6px;top:14px">534<span class="s">番台</span></div></div>
<div class="gb" style="left:6px;top:921px"><div class="l">累計ｹﾞｰﾑ数</div><div class="v">9,260<span class="k">回</span></div></div>
<svg class="ch" style="left:233px;top:851px" width="273" height="179" viewBox="0 0 273 179"><rect width="273" height="179" fill="#cdcdcd"/><rect x="19" y="8" width="247" height="166" fill="#000"/><line x1="102.6" y1="8" x2="102.6" y2="174" stroke="#1e1e1e" stroke-width="1"/><line x1="185.0" y1="8" x2="185.0" y2="174" stroke="#1e1e1e" stroke-width="1"/><line x1="19" y1="60.4" x2="266" y2="60.4" stroke="#2e2e2e" stroke-width="1"/><rect x="19" y="119" width="247" height="1" fill="#c0c0c0"/><filter id="fL4" x="-20%" y="-20%" width="140%" height="140%"><feGaussianBlur stdDeviation="0.9"/></filter><g filter="url(#fL4)" opacity="0.12"><circle cx="132.0" cy="88.3" r="24" fill="none" stroke="#fff" stroke-width="8.3"/><line x1="132.2" y1="78.3" x2="132.2" y2="98.3" stroke="#fff" stroke-width="7.5" stroke-linecap="round" opacity="0.8"/><line x1="121.7" y1="88.8" x2="142.7" y2="88.8" stroke="#fff" stroke-width="7" stroke-linecap="round" opacity="0.8"/><line x1="149.0" y1="107.3" x2="161.0" y2="117.3" stroke="#fff" stroke-width="10" stroke-linecap="round"/></g><text x="15.5" y="64.5" text-anchor="end" font-family="Liberation Serif" font-weight="bold" font-size="10" textLength="11.6" lengthAdjust="spacingAndGlyphs" fill="#000" stroke="#000" stroke-width="0.25">500</text><text x="15.5" y="123.8" text-anchor="end" font-family="Liberation Serif" font-weight="bold" font-size="10" textLength="3.9" lengthAdjust="spacingAndGlyphs" fill="#000" stroke="#000" stroke-width="0.25">0</text><clipPath id="aL4"><rect x="0" y="0" width="273" height="119.50"/></clipPath><clipPath id="bL4"><rect x="0" y="119.50" width="273" height="179"/></clipPath><path d="M19.2,119.5 L24.3,148.3 L30.3,157.6 L33.7,143.1 L37.2,120.6 L40.6,104.7 L43.5,62.8 L46.6,78.2 L51.3,96.1 L55.6,116.1 L58.9,95.3 L63.3,108.9 L66.7,107.2 L70.8,125.2 L74.8,101.8 L78.7,99.0 L83.3,120.0 L85.5,142.3 L87.9,119.2 L89.3,103.0 L92.4,105.5 L97.0,101.3 L98.7,78.2 L99.5,59.4 L103.8,58.5 L106.4,38.9 L109.8,50.8 L115.8,26.9 L119.2,49.1 L123.5,59.4 L128.6,74.8 L132.0,91.9 L135.4,117.5 L137.5,131.2 L139.7,107.2 L148.2,88.4 L152.7,114.0 L157.0,93.5 L160.4,76.5 L164.1,105.5 L168.1,96.1 L172.0,91.8 L175.7,93.9 L178.8,100.0 L183.4,67.9 L186.9,65.9 L192.0,76.5 L195.9,62.8 L199.7,40.6 L203.4,61.1 L207.3,85.8 L211.6,59.4 L214.7,23.2 L218.5,37.2 L223.2,67.6 L227.8,45.7 L234.7,21.4 L239.0,40.2 L241.5,40.6 L245.8,60.2 L249.2,58.5 L253.0,42.0 L256.9,69.6 L260.3,32.9 L265.9,36.8" fill="none" stroke="#0a8cff" stroke-width="2.0" stroke-linejoin="round" clip-path="url(#aL4)"/><path d="M19.2,119.5 L24.3,148.3 L30.3,157.6 L33.7,143.1 L37.2,120.6 L40.6,104.7 L43.5,62.8 L46.6,78.2 L51.3,96.1 L55.6,116.1 L58.9,95.3 L63.3,108.9 L66.7,107.2 L70.8,125.2 L74.8,101.8 L78.7,99.0 L83.3,120.0 L85.5,142.3 L87.9,119.2 L89.3,103.0 L92.4,105.5 L97.0,101.3 L98.7,78.2 L99.5,59.4 L103.8,58.5 L106.4,38.9 L109.8,50.8 L115.8,26.9 L119.2,49.1 L123.5,59.4 L128.6,74.8 L132.0,91.9 L135.4,117.5 L137.5,131.2 L139.7,107.2 L148.2,88.4 L152.7,114.0 L157.0,93.5 L160.4,76.5 L164.1,105.5 L168.1,96.1 L172.0,91.8 L175.7,93.9 L178.8,100.0 L183.4,67.9 L186.9,65.9 L192.0,76.5 L195.9,62.8 L199.7,40.6 L203.4,61.1 L207.3,85.8 L211.6,59.4 L214.7,23.2 L218.5,37.2 L223.2,67.6 L227.8,45.7 L234.7,21.4 L239.0,40.2 L241.5,40.6 L245.8,60.2 L249.2,58.5 L253.0,42.0 L256.9,69.6 L260.3,32.9 L265.9,36.8" fill="none" stroke="#ff3300" stroke-width="2.0" stroke-linejoin="round" clip-path="url(#bL4)"/></svg>
<div class="tt" style="left:745px;top:823px">[20S+] <span class="j">スマート沖スロ</span> <span class="j">スターハナハナ</span></div>
<div class="hl" style="left:732px;top:849px;width:400px"></div>
<div class="nb" style="left:572px;top:851px"><div class="n" style="left:30.6px;top:14px">394<span class="s">番台</span></div></div>
<div class="new" style="left:684px;top:848px"><span>NEW</span></div>
<div class="gb" style="left:572px;top:921px"><div class="l">累計ｹﾞｰﾑ数</div><div class="v">9,115<span class="k">回</span></div></div>
<svg class="ch" style="left:799px;top:851px" width="273" height="179" viewBox="0 0 273 179"><rect width="273" height="179" fill="#cdcdcd"/><rect x="27" y="8" width="239" height="166" fill="#000"/><line x1="107.7" y1="8" x2="107.7" y2="174" stroke="#1e1e1e" stroke-width="1"/><line x1="187.8" y1="8" x2="187.8" y2="174" stroke="#1e1e1e" stroke-width="1"/><line x1="27" y1="18.6" x2="266" y2="18.6" stroke="#2e2e2e" stroke-width="1"/><line x1="27" y1="61.6" x2="266" y2="61.6" stroke="#2e2e2e" stroke-width="1"/><line x1="27" y1="105.2" x2="266" y2="105.2" stroke="#2e2e2e" stroke-width="1"/><rect x="27" y="148" width="239" height="1" fill="#909090"/><filter id="fR4" x="-20%" y="-20%" width="140%" height="140%"><feGaussianBlur stdDeviation="0.9"/></filter><g filter="url(#fR4)" opacity="0.12"><circle cx="132.0" cy="88.3" r="24" fill="none" stroke="#fff" stroke-width="8.3"/><line x1="132.2" y1="78.3" x2="132.2" y2="98.3" stroke="#fff" stroke-width="7.5" stroke-linecap="round" opacity="0.8"/><line x1="121.7" y1="88.8" x2="142.7" y2="88.8" stroke="#fff" stroke-width="7" stroke-linecap="round" opacity="0.8"/><line x1="149.0" y1="107.3" x2="161.0" y2="117.3" stroke="#fff" stroke-width="10" stroke-linecap="round"/></g><text x="23.5" y="22.7" text-anchor="end" font-family="Liberation Serif" font-weight="bold" font-size="10" textLength="19.4" lengthAdjust="spacingAndGlyphs" fill="#000" stroke="#000" stroke-width="0.25">3, 000</text><text x="23.5" y="65.7" text-anchor="end" font-family="Liberation Serif" font-weight="bold" font-size="10" textLength="19.4" lengthAdjust="spacingAndGlyphs" fill="#000" stroke="#000" stroke-width="0.25">2, 000</text><text x="23.5" y="109.3" text-anchor="end" font-family="Liberation Serif" font-weight="bold" font-size="10" textLength="19.4" lengthAdjust="spacingAndGlyphs" fill="#000" stroke="#000" stroke-width="0.25">1, 000</text><text x="23.5" y="152.5" text-anchor="end" font-family="Liberation Serif" font-weight="bold" font-size="10" textLength="3.9" lengthAdjust="spacingAndGlyphs" fill="#000" stroke="#000" stroke-width="0.25">0</text><clipPath id="aR4"><rect x="0" y="0" width="273" height="148.50"/></clipPath><clipPath id="bR4"><rect x="0" y="148.50" width="273" height="179"/></clipPath><path d="M27.4,147.9 L29.8,157.6 L32.0,148.2 L33.7,141.0 L37.2,148.2 L40.1,154.2 L44.0,149.6 L46.5,135.4 L51.7,132.5 L55.9,139.3 L59.4,128.6 L62.8,125.7 L66.2,118.8 L69.6,125.7 L72.2,120.9 L76.4,118.8 L79.4,117.8 L81.6,104.7 L85.0,91.8 L89.3,73.9 L92.7,80.7 L103.8,92.7 L105.8,84.7 L108.4,90.1 L113.2,86.7 L116.6,81.9 L119.2,73.0 L123.4,63.7 L127.7,66.2 L132.3,81.3 L136.2,75.6 L143.6,67.6 L148.2,76.8 L153.8,73.9 L158.1,83.3 L160.7,65.9 L166.3,64.5 L169.7,50.8 L176.9,44.0 L182.4,35.1 L188.0,49.1 L191.4,52.6 L196.5,62.0 L200.5,58.0 L207.6,70.0 L210.7,67.6 L214.5,53.4 L223.9,72.2 L229.9,44.9 L235.0,47.4 L238.4,35.5 L241.8,37.2 L250.4,28.6 L256.9,21.5 L260.3,31.7 L266.1,29.5" fill="none" stroke="#0a8cff" stroke-width="2.0" stroke-linejoin="round" clip-path="url(#aR4)"/><path d="M27.4,147.9 L29.8,157.6 L32.0,148.2 L33.7,141.0 L37.2,148.2 L40.1,154.2 L44.0,149.6 L46.5,135.4 L51.7,132.5 L55.9,139.3 L59.4,128.6 L62.8,125.7 L66.2,118.8 L69.6,125.7 L72.2,120.9 L76.4,118.8 L79.4,117.8 L81.6,104.7 L85.0,91.8 L89.3,73.9 L92.7,80.7 L103.8,92.7 L105.8,84.7 L108.4,90.1 L113.2,86.7 L116.6,81.9 L119.2,73.0 L123.4,63.7 L127.7,66.2 L132.3,81.3 L136.2,75.6 L143.6,67.6 L148.2,76.8 L153.8,73.9 L158.1,83.3 L160.7,65.9 L166.3,64.5 L169.7,50.8 L176.9,44.0 L182.4,35.1 L188.0,49.1 L191.4,52.6 L196.5,62.0 L200.5,58.0 L207.6,70.0 L210.7,67.6 L214.5,53.4 L223.9,72.2 L229.9,44.9 L235.0,47.4 L238.4,35.5 L241.8,37.2 L250.4,28.6 L256.9,21.5 L260.3,31.7 L266.1,29.5" fill="none" stroke="#ff3300" stroke-width="2.0" stroke-linejoin="round" clip-path="url(#bR4)"/></svg>
</body></html>
